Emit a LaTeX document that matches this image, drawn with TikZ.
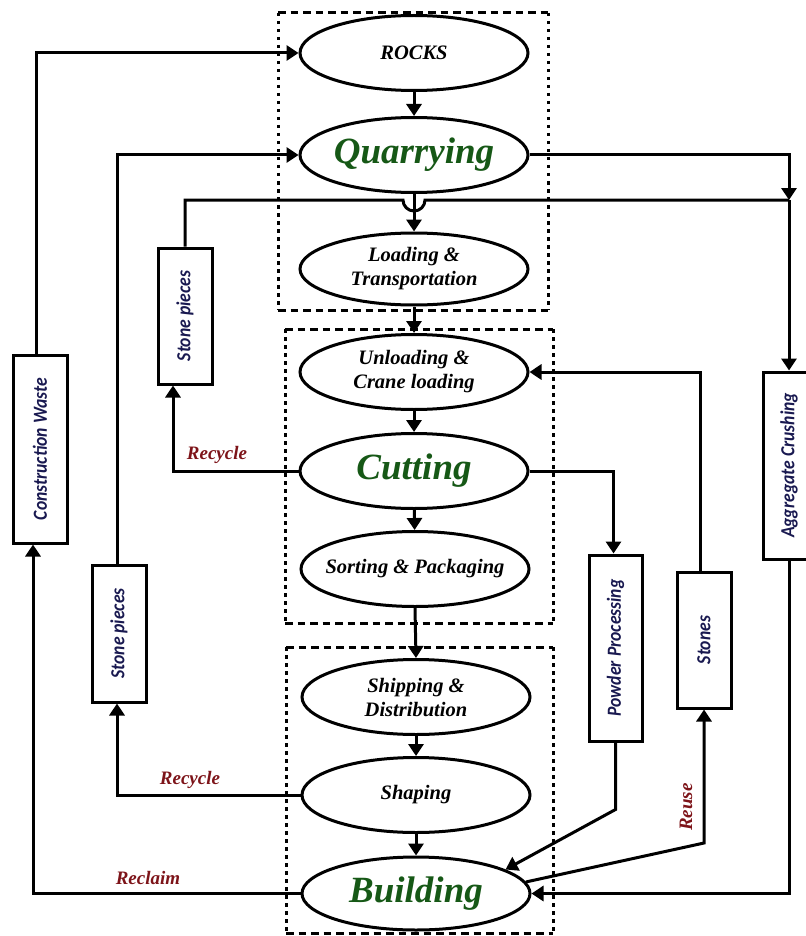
\documentclass[tikz,border=0pt]{standalone}
\usepackage{fontspec}
\setmainfont{Liberation Serif}
\newfontfamily\boxfont[FakeStretch=0.88]{Carlito}
\usetikzlibrary{shapes.geometric,arrows.meta,calc}
\definecolor{stagegreen}{RGB}{22,88,22}
\definecolor{labelred}{RGB}{125,20,25}
\definecolor{boxnavy}{RGB}{25,25,80}
\begin{document}
\begin{tikzpicture}[x=1pt,y=-1pt,
  stage/.style={draw, ellipse, line width=3pt, minimum width=228pt, minimum height=75pt, inner sep=0pt, align=center, font=\fontsize{20.5}{24}\selectfont\bfseries\itshape},
  bigstage/.style={stage, font=\fontsize{37}{40}\selectfont\bfseries\itshape, text=stagegreen},
  sidebox/.style={draw, rectangle, line width=3pt, inner sep=0pt},
  sidetext/.style={rotate=90, text=boxnavy, font=\fontsize{20}{22}\selectfont\boxfont\bfseries\itshape},
  flow/.style={line width=3pt, -{Triangle[length=12pt,width=15pt]}},
  link/.style={line width=3pt},
  tag/.style={text=labelred, font=\fontsize{19}{21}\selectfont\bfseries\itshape},
  hdash/.style={line width=3pt, dash pattern=on 7.5pt off 5pt},
  vdash/.style={line width=3pt, dash pattern=on 3.5pt off 4.5pt}
]
\useasboundingbox (0,0) rectangle (805,936);

% dashed group frames
\draw[hdash] (278,13) -- (548,13);
\draw[hdash] (278,310) -- (548,310);
\draw[vdash] (278,13) -- (278,310);
\draw[vdash] (548,13) -- (548,310);
\draw[hdash] (285,329) -- (553,329);
\draw[hdash] (285,623) -- (553,623);
\draw[vdash] (285,329) -- (285,623);
\draw[vdash] (553,329) -- (553,623);
\draw[hdash] (286,647) -- (553,647);
\draw[hdash] (286,933) -- (553,933);
\draw[vdash] (286,647) -- (286,933);
\draw[vdash] (553,647) -- (553,933);

% stages
\node[stage] (rocks) at (414,53) {ROCKS};
\node[bigstage] (quarry) at (414,155) {Quarrying};
\node[stage, minimum height=72pt] (loading) at (414,269) {Loading \&\\Transportation};
\node[stage] (unloading) at (414,372) {Unloading \&\\Crane loading};
\node[bigstage] (cutting) at (414,471) {Cutting};
\node[stage, inner xsep=-16pt] (sorting) at (415,569) {Sorting \& Packaging};
\node[stage] (shipping) at (416,697) {Shipping \&\\Distribution};
\node[stage] (shaping) at (416,795) {Shaping};
\node[bigstage, minimum height=73pt] (building) at (416,893.5) {Building};

% side boxes
\node[sidebox, minimum width=54pt, minimum height=188pt] (cw) at (40,449) {};
\node[sidetext] (cwt) at (cw) {Construction Waste};
\node[sidebox, minimum width=54pt, minimum height=136pt] (sp1) at (185,316) {};
\node[sidetext] (sp1t) at (sp1) {Stone pieces};
\node[sidebox, minimum width=54pt, minimum height=137pt] (sp2) at (119,633.5) {};
\node[sidetext] (sp2t) at (sp2) {Stone pieces};
\node[sidebox, minimum width=52pt, minimum height=187pt] (agg) at (789,465.5) {};
\node[sidetext] (aggt) at (agg) {Aggregate Crushing};
\node[sidebox, minimum width=53pt, minimum height=186pt] (powder) at (615.5,648) {};
\node[sidetext] (powdert) at (powder) {Powder Processing};
\node[sidebox, minimum width=54pt, minimum height=136pt] (stones) at (704,640) {};
\node[sidetext] (stonest) at (stones) {Stones};

% main chain
\draw[flow] (rocks) -- (quarry);
\draw[flow] (quarry) -- (loading);
\draw[flow] (loading) -- (unloading);
\draw[flow] (unloading) -- (cutting);
\draw[flow] (cutting) -- (sorting);
\draw[flow] (sorting.south) -- (shipping.north);
\draw[flow] (shipping) -- (shaping);
\draw[flow] (shaping) -- (building);

% loops
\coordinate (j) at (789,200);
\draw[flow] ([xshift=-4pt]cw.north) |- (rocks.west);
\draw[flow] (building.west) -| ([xshift=-7pt]cw.south);
\draw[flow] ([xshift=-2pt]sp2.north) |- (quarry.west);
\draw[flow] (shaping.west) -| ([xshift=-2pt]sp2.south);
\draw[flow] (cutting.west) -| ([xshift=-12pt]sp1.south);
\draw[link] (sp1.north) |- (403,200) arc[start angle=180, end angle=0, radius=11] -- (j);
\draw[flow] (quarry.east) -| (j);
\draw[flow] (j) -- (agg.north);
\draw[flow] (cutting.east) -| ([xshift=-2pt]powder.north);
\draw[flow] ([xshift=-4pt]stones.north) |- (unloading.east);
\draw[flow] (powder.south) -- ++(0,67) -- (building.15);
\draw[flow] (building.6) -- (704,843) -- (stones.south);
\draw[flow] (agg.south) |- (building.east);

% labels
\node[tag] (rec1) at (217,455) {Recycle};
\node[tag] (rec2) at (190,780) {Recycle};
\node[tag] (recl) at (148,878) {Reclaim};
\node[tag, rotate=90] (reuse) at (686,807) {Reuse};
\end{tikzpicture}
\end{document}
